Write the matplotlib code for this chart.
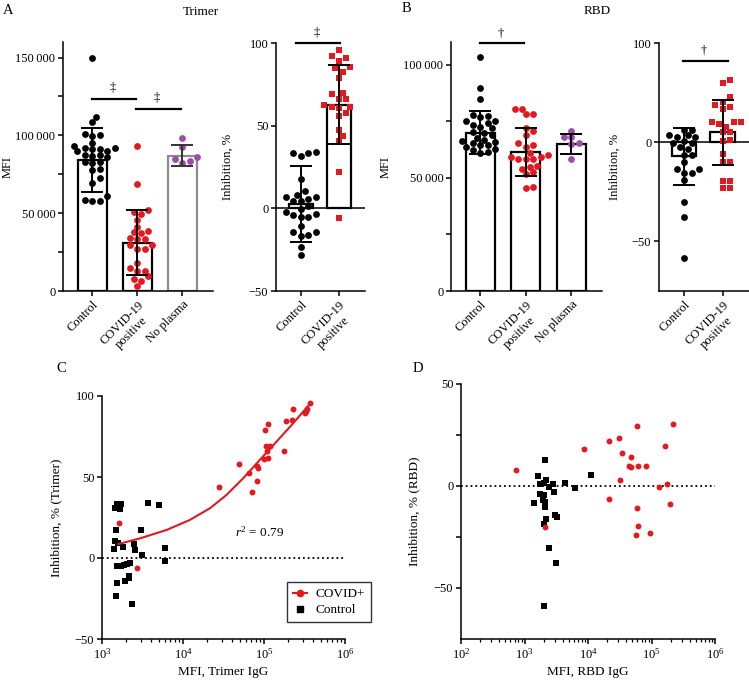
import numpy as np
import matplotlib.pyplot as plt
from matplotlib.lines import Line2D
from matplotlib.ticker import FixedLocator, FixedFormatter

plt.rcParams['font.family'] = ['Liberation Serif', 'DejaVu Serif']
plt.rcParams['mathtext.fontset'] = 'custom'
plt.rcParams['mathtext.rm'] = 'Liberation Serif'
plt.rcParams['mathtext.it'] = 'Liberation Serif:italic'
plt.rcParams['font.size'] = 9
plt.rcParams['axes.linewidth'] = 1.1

RED = '#e3191f'
PURPLE = '#9a4fa6'
GREY = '#8c8c8c'

# ---- panel A (Trimer) ----
groups3 = ['Control', 'COVID-19\npositive', 'No plasma']
groups2 = ['Control', 'COVID-19\npositive']

trimer_mfi_ctrl = [150000, 112100, 108300, 100400, 99700, 100800, 95400, 93300, 91800, 91200,
                   91800, 90000, 91200, 89700, 87700, 87100, 86600, 85800, 83000, 82400,
                   83200, 78100, 77700, 72300, 69500, 61000, 58200, 58000, 58000]
trimer_mfi_covid = [93100, 68500, 52000, 50700, 45600, 49200, 37700, 38700, 41300, 34200,
                    33200, 33600, 37000, 29500, 29500, 26700, 26700, 17800, 15000, 13000,
                    13000, 9600, 7700, 6600, 3400]
trimer_mfi_noplasma = [98400, 92700, 85800, 84500, 83500, 82300]
trimer_mfi_mean = [84000, 31000, 87000]
trimer_mfi_sd = [20500, 21000, 6500]

trimer_inh_ctrl = [33.8, 33.6, 33.6, 31.8, 17.5, 10.7, 6.8, 7.0, 8.0, 5.6, 4.4, 4.4, 1.6,
                   -4.0, -3.6, -2.4, -0.6, -5.4, -5.0, -10.7, -14.1, -14.5, -16.7, -16.1,
                   -23.1, -28.2]
trimer_inh_covid = [96.0, 91.1, 92.0, 89.1, 85.5, 84.7, 82.7, 79.1, 69.6, 69.0, 66.0, 66.0,
                    61.4, 62.4, 61.0, 60.6, 57.9, 55.7, 47.5, 43.7, 40.6, 21.7, -6.0]
trimer_inh_mean = [2.5, 62.8]
trimer_inh_sd = [23, 24]

# ---- panel B (RBD) ----
rbd_mfi_ctrl = [103200, 89700, 84900, 77600, 77400, 76800, 75100, 75100, 74400, 73500,
                72500, 71800, 70300, 69700, 68700, 67700, 66800, 66200, 65800, 65300,
                64600, 64300, 63500, 62700, 62200, 61600, 61000]
rbd_mfi_covid = [80300, 80300, 78000, 78200, 72100, 70900, 69000, 65400, 64400, 63700,
                 61000, 60300, 58500, 58500, 59300, 58500, 59100, 54100, 54900, 55300,
                 52400, 51900, 45600, 46000]
rbd_mfi_noplasma = [70900, 68200, 68000, 65500, 64800, 58100]
rbd_mfi_mean = [70000, 61500, 65000]
rbd_mfi_sd = [9400, 10700, 4500]

rbd_inh_ctrl = [5.9, 5.9, 2.5, 3.4, 3.4, 2.5, 0.5, -0.5, -0.5, -2.5, -3.4, -6.2, -6.2,
                -10.1, -13.5, -13.5, -15.7, -15.7, -19.0, -30.3, -37.5, -58.6]
rbd_inh_covid = [31.1, 29.8, 22.7, 20.2, 19.0, 17.7, 16.8, 10.1, 10.1, 10.1, 9.0, 7.9,
                 5.1, 5.1, 0.8, 1.2, -5.9, -10.1, -10.1, -19.4, -19.4, -23.2, -23.2]
rbd_inh_mean = [-7.2, 5.1]
rbd_inh_sd = [14.5, 16.4]

# ---- panel C (Trimer IgG vs inhibition) ----
c_covid_mfi = [367000, 332000, 344000, 318000, 231000, 224000, 186000, 179000, 111000,
               104000, 105000, 117000, 108000, 113000, 101000, 81500, 84000, 82300,
               66200, 49300, 72100, 28000, 1600, 2730]
c_covid_inh = [95.9, 90.7, 92.0, 89.5, 91.8, 85.4, 84.8, 66.3, 82.9, 79.2, 69.3, 68.9,
               66.0, 61.9, 61.3, 56.6, 55.6, 47.7, 52.7, 58.0, 40.5, 43.6, 21.8, -6.2]
c_ctrl_mfi = [1530, 1650, 1715, 1460, 1650, 3650, 5050, 1475, 3000, 1430, 1570, 1800,
              1400, 2510, 2550, 3080, 5930, 5930, 1530, 1715, 1880, 2030, 2190, 1530,
              1920, 2170, 2150, 1475, 2345]
c_ctrl_inh = [33.5, 33.5, 33.5, 31.1, 30.0, 33.7, 32.5, 17.1, 17.1, 10.5, 9.1, 6.8, 5.8,
              8.6, 5.1, 1.9, 6.2, -1.6, -4.7, -5.1, -4.5, -3.5, -2.9, -15.4, -14.2,
              -12.6, -10.9, -23.7, -28.2]
c_fit_mfi = [1590, 2940, 6270, 12160, 21500, 34400, 55300, 88700, 142500, 228600, 350000]
c_fit_inh = [8.6, 12.1, 17.3, 23.5, 30.7, 38.9, 49.2, 60.5, 71.8, 83.1, 93.8]

# ---- panel D (RBD IgG vs inhibition) ----
d_covid_mfi = [741, 8800, 21800, 31200, 34000, 60100, 47200, 44400, 47200, 62200, 81100,
               31700, 21800, 163700, 215800, 133000, 173800, 198000, 59300, 61500,
               57900, 95000, 2070]
d_covid_inh = [7.7, 18.0, 22.3, 23.4, 16.4, 29.3, 14.3, 9.7, 9.2, 10.0, 9.7, 2.8, -6.4,
               19.5, 30.5, -0.7, 1.0, -8.9, -10.7, -19.7, -23.8, -23.1, -20.3]
d_ctrl_mfi = [2120, 1607, 11100, 4330, 2200, 1770, 1995, 2860, 2390, 6130, 1730, 2870,
              1995, 1420, 1950, 2120, 2070, 3050, 3240, 2200, 1995, 2390, 3160, 2050]
d_ctrl_inh = [12.6, 5.1, 5.2, 1.5, 2.8, 0.8, 1.5, 0.8, -0.5, -1.1, -3.8, -3.0, -4.6,
              -8.4, -7.0, -7.9, -10.3, -14.1, -15.2, -16.4, -18.4, -30.5, -37.9, -58.8]

W, H = 749, 680
fig = plt.figure(figsize=(W / 100, H / 100), dpi=100)


def rect(l, t, r, b):
    return [l / W, 1 - b / H, (r - l) / W, (b - t) / H]


def style(ax):
    ax.spines['top'].set_visible(False)
    ax.spines['right'].set_visible(False)
    ax.tick_params(direction='out', length=3.5, width=1.1, labelsize=9, pad=2)


def swarm(ax, xc, vals, d):
    pts = ax.transData.transform(np.column_stack([np.full(len(vals), xc), vals]))
    inv = ax.transData.inverted()
    placed = []
    out = np.zeros(len(vals))
    offs = [0]
    for k in range(1, 20):
        offs += [k * d * 0.6, -k * d * 0.6]
    for i in np.argsort(vals):
        px, py = pts[i]
        for o in offs:
            if all((px + o - qx) ** 2 + (py - qy) ** 2 >= d ** 2 for qx, qy in placed):
                break
        placed.append((px + o, py))
        out[i] = inv.transform((px + o, py))[0]
    return out


def bar_panel(ax, series, means, sds, colors, markers, edges, errc, ylim, ticks, labels,
              names, zero_line=False):
    n = len(series)
    ax.set_xlim(-0.65, n - 1 + 0.68)
    ax.set_ylim(*ylim)
    ax.bar(range(n), means, width=0.64, color='white', edgecolor=edges, linewidth=1.6, zorder=1)
    for i, vals in enumerate(series):
        xs = swarm(ax, i, vals, 6.2)
        ax.scatter(xs, vals, s=24, marker=markers[i], color=colors[i], linewidths=0, zorder=2)
    for i in range(n):
        ax.errorbar(i, means[i], yerr=sds[i], fmt='none', ecolor=errc[i], capsize=8,
                    elinewidth=1.4, capthick=1.4, zorder=3)
    if zero_line:
        ax.axhline(0, color='black', lw=1.1, zorder=1.5)
    ax.yaxis.set_major_locator(FixedLocator(ticks))
    ax.yaxis.set_major_formatter(FixedFormatter(labels))
    ax.set_xticks(range(n))
    ax.set_xticklabels(names[:n], rotation=45, ha='right', va='top', rotation_mode='anchor',
                       multialignment='center')
    style(ax)


def sig(ax, x0, x1, y, ytxt, sym):
    ax.plot([x0, x1], [y, y], color='black', lw=1.6, clip_on=False)
    ax.text((x0 + x1) / 2 - 0.04, ytxt, sym, ha='center', va='center', fontsize=9, clip_on=False)


# A1
ax = fig.add_axes(rect(63, 42, 213, 291))
bar_panel(ax, [trimer_mfi_ctrl, trimer_mfi_covid, trimer_mfi_noplasma], trimer_mfi_mean,
          trimer_mfi_sd, ['black', RED, PURPLE], ['o', 'o', 'o'], ['black', 'black', GREY],
          ['black', 'black', '#333333'], (0, 160000),
          [0, 25000, 50000, 75000, 100000, 125000, 150000],
          ['0', '', '50\u2009000', '', '100\u2009000', '', '150\u2009000'], groups3)
ax.set_ylabel('MFI', fontsize=9)
ax.yaxis.set_label_coords(-0.33, 0.5)
sig(ax, 0, 0.97, 123500, 130500, '\u2021')
sig(ax, 0.96, 1.96, 117000, 124500, '\u2021')

# A2
ax = fig.add_axes(rect(276, 43, 365, 291))
bar_panel(ax, [trimer_inh_ctrl, trimer_inh_covid], trimer_inh_mean, trimer_inh_sd,
          ['black', RED], ['o', 's'], ['black', 'black'], ['black', 'black'], (-50, 100),
          [-50, 0, 50, 100], ['\u221250', '0', '50', '100'], groups2, zero_line=True)
ax.set_ylabel('Inhibition, %', fontsize=9)
ax.yaxis.set_label_coords(-0.48, 0.5)
sig(ax, -0.13, 1.03, 100.2, 106.6, '\u2021')

# B1
ax = fig.add_axes(rect(451, 42, 602, 291))
bar_panel(ax, [rbd_mfi_ctrl, rbd_mfi_covid, rbd_mfi_noplasma], rbd_mfi_mean, rbd_mfi_sd,
          ['black', RED, PURPLE], ['o', 'o', 'o'], ['black', 'black', 'black'],
          ['black', 'black', 'black'], (0, 110000), [0, 25000, 50000, 75000, 100000],
          ['0', '', '50\u2009000', '', '100\u2009000'], groups3)
ax.set_ylabel('MFI', fontsize=9)
ax.yaxis.set_label_coords(-0.39, 0.5)
sig(ax, 0, 0.97, 109400, 113700, '\u2020')

# B2
ax = fig.add_axes(rect(659, 43, 749, 291))
bar_panel(ax, [rbd_inh_ctrl, rbd_inh_covid], rbd_inh_mean, rbd_inh_sd, ['black', RED],
          ['o', 's'], ['black', 'black'], ['black', 'black'], (-75, 50), [-50, 0, 50],
          ['\u221250', '0', '100'], groups2, zero_line=True)
ax.set_ylabel('Inhibition, %', fontsize=9)
ax.yaxis.set_label_coords(-0.43, 0.5)
sig(ax, -0.03, 1.13, 40.7, 46.3, '\u2020')

# C
ax = fig.add_axes(rect(102, 396, 345, 639))
ax.set_xscale('log')
ax.set_xlim(1e3, 1e6)
ax.set_ylim(-50, 100)
ax.axhline(0, color='black', ls=':', lw=1.3, zorder=1)
ax.scatter(c_ctrl_mfi, c_ctrl_inh, s=20, marker='s', color='black', linewidths=0, zorder=2)
ax.scatter(c_covid_mfi, c_covid_inh, s=18, marker='o', color=RED, linewidths=0, zorder=3)
ax.plot(c_fit_mfi, c_fit_inh, color=RED, lw=1.5, zorder=3)
ax.text(44000, 16, r'$r^2$ = 0.79', fontsize=9.5, va='center', ha='left')
ax.set_yticks([-50, 0, 50, 100])
ax.set_yticklabels(['\u221250', '0', '50', '100'])
ax.set_ylabel('Inhibition, % (Trimer)', fontsize=9.5)
ax.yaxis.set_label_coords(-0.165, 0.5)
ax.set_xlabel('MFI, Trimer IgG', fontsize=9.5)
ax.xaxis.set_label_coords(0.5, -0.11)
style(ax)
ax.tick_params(which='minor', direction='out', length=2.5, width=0.9)
handles = [Line2D([], [], color=RED, marker='o', ms=4.5, lw=1.5, label='COVID+'),
           Line2D([], [], color='black', marker='s', ms=4.5, ls='none', label='Control')]
leg = fig.legend(handles=handles, loc='upper left', bbox_to_anchor=(287 / W, 1 - 582 / H),
                 frameon=True, fancybox=False, edgecolor='black', fontsize=9.5,
                 handlelength=1.1, borderpad=0.45, labelspacing=0.3, handletextpad=0.6,
                 borderaxespad=0)
leg.get_frame().set_linewidth(1.0)

# D
ax = fig.add_axes(rect(461, 384, 715, 639))
ax.set_xscale('log')
ax.set_xlim(1e2, 1e6)
ax.set_ylim(-75, 50)
ax.axhline(0, color='black', ls=':', lw=1.3, zorder=1)
ax.scatter(d_ctrl_mfi, d_ctrl_inh, s=20, marker='s', color='black', linewidths=0, zorder=2)
ax.scatter(d_covid_mfi, d_covid_inh, s=18, marker='o', color=RED, linewidths=0, zorder=3)
ax.set_yticks([-50, -25, 0, 25, 50])
ax.set_yticklabels(['\u221250', '', '0', '', '50'])
ax.set_ylabel('Inhibition, % (RBD)', fontsize=9.5)
ax.yaxis.set_label_coords(-0.16, 0.5)
ax.set_xlabel('MFI, RBD IgG', fontsize=9.5)
ax.xaxis.set_label_coords(0.5, -0.105)
style(ax)
ax.tick_params(which='minor', direction='out', length=2.5, width=0.9)

# titles and panel letters
fig.text(201 / W, 1 - 12 / H, 'Trimer', ha='center', va='center', fontsize=9.5)
fig.text(597 / W, 1 - 11 / H, 'RBD', ha='center', va='center', fontsize=9.5)
fig.text(3 / W, 1 - 10 / H, 'A', ha='left', va='center', fontsize=10.5)
fig.text(402 / W, 1 - 9 / H, 'B', ha='left', va='center', fontsize=10.5)
fig.text(56 / W, 1 - 369 / H, 'C', ha='left', va='center', fontsize=10.5)
fig.text(413 / W, 1 - 369 / H, 'D', ha='left', va='center', fontsize=10.5)

fig.savefig('out.png', dpi=100, facecolor='white')
